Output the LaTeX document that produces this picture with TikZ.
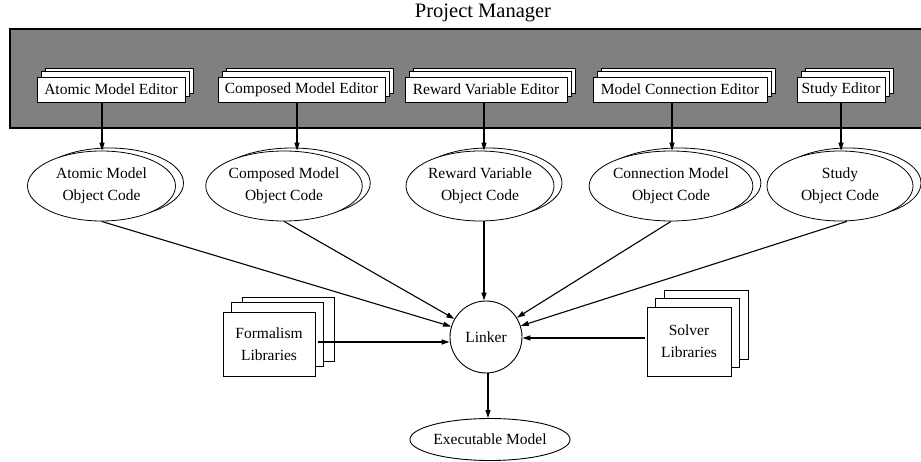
\documentclass[tikz,border=0pt]{standalone}
\usepackage{fontspec}
\setmainfont{Liberation Serif}
\usetikzlibrary{shapes.geometric,shadows,arrows.meta}
\begin{document}
\begin{tikzpicture}[x=1pt,y=-1pt,
  every node/.style={font=\fontsize{15.5}{22}\selectfont},
  title/.style={font=\fontsize{20.5}{24}\selectfont},
  frame/.style={draw, fill=gray, line width=1.3pt},
  edbox/.style={draw, fill=white, line width=0.9pt, inner sep=0pt, minimum height=25pt,
     copy shadow={shadow xshift=8pt, shadow yshift=8.5pt, draw, fill=white, line width=0.9pt},
     copy shadow={shadow xshift=4pt, shadow yshift=5.5pt, draw, fill=white, line width=0.9pt}},
  obj/.style={ellipse, draw, fill=white, line width=0.8pt, inner sep=0pt,
     minimum width=148pt, minimum height=70pt, align=center,
     copy shadow={shadow xshift=8pt, shadow yshift=3pt, draw, fill=white, line width=0.8pt}},
  libbox/.style={draw, fill=white, line width=0.9pt, inner sep=0pt, align=center},
  linkc/.style={circle, draw, fill=white, line width=0.9pt, inner sep=0pt, minimum size=72pt},
  exell/.style={ellipse, draw, fill=white, line width=0.9pt, inner sep=0pt,
     minimum width=154pt, minimum height=42pt},
  arr/.style={-{Triangle[length=8pt,width=5pt]}, line width=1.1pt}
]
\useasboundingbox (0,0) rectangle (921,462);

\node[title] (pm) at (483,13) {Project Manager};
\path[frame] (10,29) rectangle (935,128);

\node[edbox, minimum width=148pt] (e1) at (111,89.5) {Atomic Model Editor};
\node[edbox, minimum width=167pt] (e2) at (301.5,89.5) {Composed Model Editor};
\node[edbox, minimum width=162pt] (e3) at (486,89.5) {Reward Variable Editor};
\node[edbox, minimum width=174pt] (e4) at (680,89.5) {Model Connection Editor};
\node[edbox, minimum width=88pt] (e5) at (841,89.5) {Study Editor};

\node[obj] (o1) at (101.5,186) {Atomic Model\\Object Code};
\node[obj] (o2) at (284,186) {Composed Model\\Object Code};
\node[obj] (o3) at (480,186) {Reward Variable\\Object Code};
\node[obj] (o4) at (671,186) {Connection Model\\Object Code};
\node[obj, minimum width=146pt] (o5) at (840,186) {Study\\Object Code};

\node[linkc] (lk) at (486,337) {Linker};

\node[libbox, minimum width=92pt, minimum height=64pt,
  copy shadow={shadow xshift=19.5pt, shadow yshift=15pt, draw, fill=white, line width=0.9pt},
  copy shadow={shadow xshift=8.5pt, shadow yshift=9.5pt, draw, fill=white, line width=0.9pt}]
  (fm) at (269,344) {Formalism\\Libraries};
\node[libbox, minimum width=84pt, minimum height=69pt,
  copy shadow={shadow xshift=17pt, shadow yshift=16.5pt, draw, fill=white, line width=0.9pt},
  copy shadow={shadow xshift=8pt, shadow yshift=9pt, draw, fill=white, line width=0.9pt}]
  (sv) at (689,341.5) {Solver\\Libraries};

\node[exell] (ex) at (490,439.5) {Executable Model};

% editor -> object code
\coordinate (t1) at ([xshift=-9pt]e1.south);
\coordinate (t2) at ([xshift=-4.5pt]e2.south);
\coordinate (t3) at ([xshift=-2pt]e3.south);
\coordinate (t4) at ([xshift=-8pt]e4.south);
\coordinate (t5) at (e5.south);
\draw[arr] (t1) -- (t1 |- o1.north);
\draw[arr] (t2) -- (t2 |- o2.north);
\draw[arr] (t3) -- (t3 |- o3.north);
\draw[arr] (t4) -- (t4 |- o4.north);
\draw[arr] (t5) -- (t5 |- o5.north);

% object code -> linker
\draw[arr] (o1.south) -- (lk);
\draw[arr] (o2.south) -- (lk);
\coordinate (r3) at ([xshift=4pt]o3.south);
\draw[arr] (r3) -- (r3 |- lk.north);
\draw[arr] (o4.south) -- (lk);
\draw[arr] ([xshift=7pt]o5.south) -- (lk);

% libraries -> linker
\coordinate (fa) at ([xshift=3pt,yshift=2pt]fm.east);
\draw[arr] (fa) -- (fa -| lk.west);
\coordinate (sa) at ([xshift=-2pt,yshift=3.5pt]sv.west);
\draw[arr] (sa) -- (sa -| lk.east);

% linker -> executable
\coordinate (la) at ([xshift=2pt]lk.south);
\draw[arr] (la) -- (la |- ex.north);
\end{tikzpicture}
\end{document}
